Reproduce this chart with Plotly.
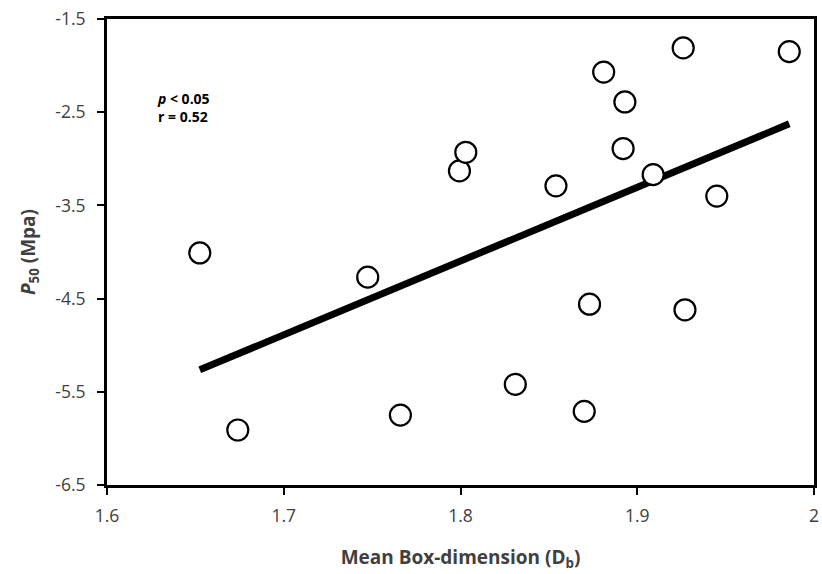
import numpy as np
import plotly.graph_objects as go

box_dim = [1.6525, 1.674, 1.7475, 1.766, 1.7994, 1.803, 1.831, 1.854, 1.870,
           1.873, 1.881, 1.892, 1.893, 1.909, 1.926, 1.927, 1.945, 1.986]
p50 = [-4.01, -5.91, -4.27, -5.75, -3.13, -2.93, -5.42, -3.29, -5.71,
       -4.56, -2.07, -2.89, -2.39, -3.17, -1.81, -4.62, -3.40, -1.85]

x_ticks = [1.6, 1.7, 1.8, 1.9, 2.0]
x_tick_labels = ["1.6", "1.7", "1.8", "1.9", "2"]
y_ticks = [-6.5, -5.5, -4.5, -3.5, -2.5, -1.5]
y_tick_labels = ["-6.5", "-5.5", "-4.5", "-3.5", "-2.5", "-1.5"]

slope, intercept = np.polyfit(box_dim, p50, 1)
trend_x = [min(box_dim), max(box_dim)]
trend_y = [slope * v + intercept for v in trend_x]

font_family = "Open Sans, Liberation Sans, sans-serif"

fig = go.Figure()
fig.add_trace(go.Scatter(x=trend_x, y=trend_y, mode="lines",
                         line=dict(color="black", width=7), hoverinfo="skip"))
fig.add_trace(go.Scatter(x=box_dim, y=p50, mode="markers",
                         marker=dict(size=21, color="white",
                                     line=dict(color="black", width=2.2))))

fig.add_annotation(x=0.068, y=0.81, xref="paper", yref="paper",
                   text="<b><i>p</i> &lt; 0.05</b><br><b>r = 0.52</b>",
                   showarrow=False, xanchor="left", yanchor="middle", align="left",
                   font=dict(size=14, family=font_family, color="black"))

axis_common = dict(showgrid=False, zeroline=False, showline=True, linecolor="black",
                   linewidth=3, mirror=True, ticks="outside", ticklen=7,
                   tickwidth=2, tickcolor="black", automargin=False,
                   tickfont=dict(size=17.5, family=font_family, color="#404040"))

fig.update_xaxes(range=[1.6, 2.0], tickvals=x_ticks, ticktext=x_tick_labels,
                 ticklabelstandoff=6,
                 title=dict(text="<b>Mean Box-dimension (D<sub>b</sub>)</b>",
                            font=dict(size=19, family=font_family, color="#404040"),
                            standoff=25),
                 **axis_common)
fig.update_yaxes(range=[-6.5, -1.5], tickvals=y_ticks, ticktext=y_tick_labels,
                 ticklabelstandoff=8,
                 title=dict(text="<b><i>P</i><sub>50</sub> (Mpa)</b>",
                            font=dict(size=19, family=font_family, color="#404040"),
                            standoff=15),
                 **axis_common)

fig.update_layout(width=822, height=574, showlegend=False,
                  plot_bgcolor="white", paper_bgcolor="white",
                  margin=dict(l=107, r=8, t=19, b=89))

fig.write_html("out.html")
